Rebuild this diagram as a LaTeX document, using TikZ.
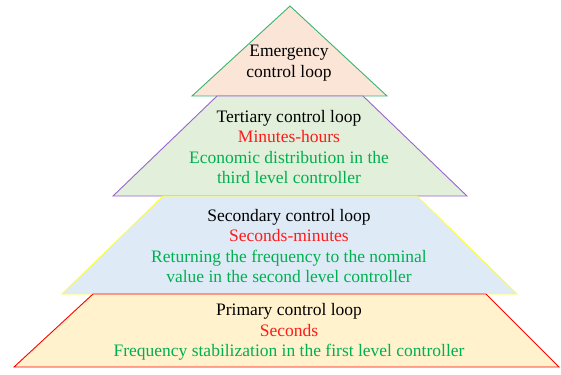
\documentclass[tikz,border=0pt]{standalone}
\usepackage{fontspec}
\setmainfont{Liberation Serif}
\definecolor{peach}{HTML}{FBE5D6}
\definecolor{palegreen}{HTML}{E2EFDA}
\definecolor{paleblue}{HTML}{DEEBF7}
\definecolor{paleyellow}{HTML}{FFF2CC}
\definecolor{linegreen}{HTML}{3CB371}
\definecolor{linepurple}{HTML}{9966CC}
\definecolor{lineyellow}{HTML}{FFFF33}
\definecolor{txtred}{HTML}{FF1A1A}
\definecolor{txtgreen}{HTML}{00B050}
\tikzset{
  level/.style={line width=0.9pt, line join=miter},
  leveltext/.style={align=center, font=\fontsize{17.5}{20.5}\selectfont, inner sep=0pt}
}
\begin{document}
\begin{tikzpicture}[x=1pt,y=-1pt] % one unit is one pixel, y goes down
    \useasboundingbox (0,0) rectangle (561,374);

    % Pyramid parameters
    \def\cx{289} % centre line of the text

    % Define points: top of each level, then bottom
    \coordinate (A) at (290,6); % apex
    \coordinate (E1) at (192,96); \coordinate (E2) at (387,96); % emergency base
    \coordinate (T1) at (217,96); \coordinate (T2) at (363,96); % tertiary top
    \coordinate (T3) at (113,196); \coordinate (T4) at (467,196); % tertiary bottom
    \coordinate (S1) at (163,196); \coordinate (S2) at (417,196); % secondary top
    \coordinate (S3) at (62,294); \coordinate (S4) at (517,294); % secondary bottom
    \coordinate (P1) at (93,294); \coordinate (P2) at (486,294); % primary top
    \coordinate (P3) at (14,367); \coordinate (P4) at (559,367); % primary bottom

    % Draw the levels, top one first
    \draw[level, draw=linegreen, fill=peach] (A) -- (E2) -- (E1) -- cycle;
    \draw[level, draw=linepurple, fill=palegreen] (T1) -- (T2) -- (T4) -- (T3) -- cycle;
    \draw[level, draw=lineyellow, fill=paleblue] (S1) -- (S2) -- (S4) -- (S3) -- cycle;
    \draw[level, draw=red, fill=paleyellow] (P1) -- (P2) -- (P4) -- (P3) -- cycle;

    % Texts of the levels
    \node[leveltext] (emergency) at (\cx,63) {Emergency\\control loop};
    \node[leveltext] (tertiary) at (\cx,147) {Tertiary control loop\\
      \textcolor{txtred}{Minutes-hours}\\
      \textcolor{txtgreen}{Economic distribution in the}\\
      \textcolor{txtgreen}{third level controller}};
    \node[leveltext] (secondary) at (\cx,246) {Secondary control loop\\
      \textcolor{txtred}{Seconds-minutes}\\
      \textcolor{txtgreen}{Returning the frequency to the nominal}\\
      \textcolor{txtgreen}{value in the second level controller}};
    \node[leveltext] (primary) at (\cx,332) {Primary control loop\\
      \textcolor{txtred}{Seconds}\\
      \textcolor{txtgreen}{Frequency stabilization in the first level controller}};
\end{tikzpicture}
\end{document}
